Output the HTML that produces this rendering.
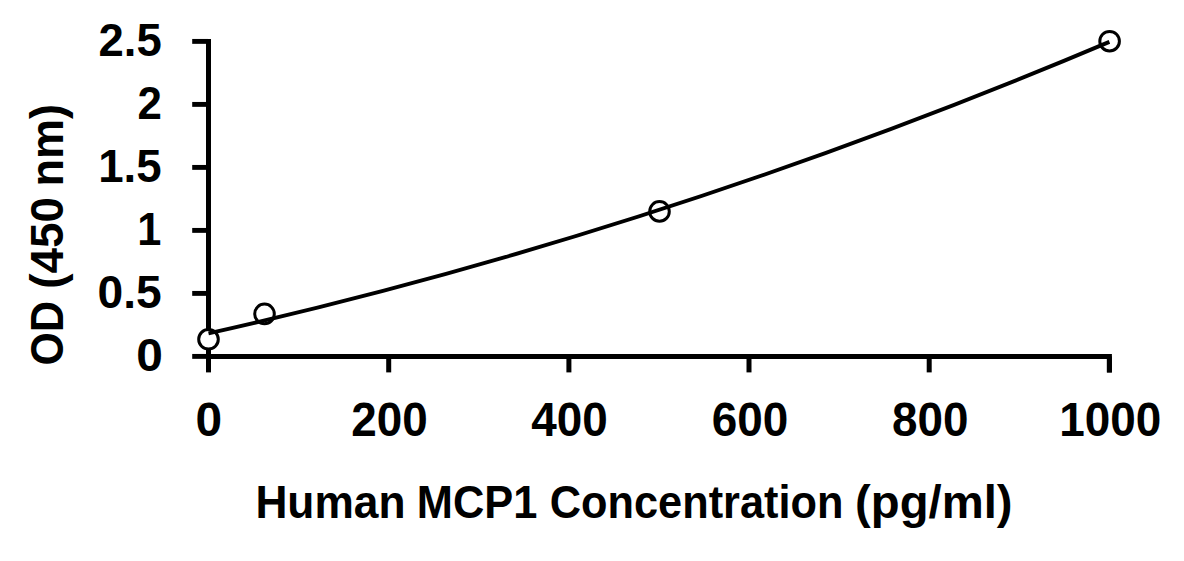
<!DOCTYPE html>
<html><head><meta charset="utf-8"><style>
html,body{margin:0;padding:0;background:#fff;width:1184px;height:561px;overflow:hidden}
svg{display:block}
text{font-family:"Liberation Sans",sans-serif;font-weight:bold;font-size:47px;fill:#000}
</style></head><body>
<svg width="1184" height="561" viewBox="0 0 1184 561">
<rect width="1184" height="561" fill="#fff"/>
<path d="M208.5 39.0 V356.4 H1109.4 V372.4" fill="none" stroke="#000" stroke-width="5"/>
<line x1="192.2" y1="41.4" x2="208.5" y2="41.4" stroke="#000" stroke-width="4.9"/>
<line x1="192.2" y1="104.4" x2="208.5" y2="104.4" stroke="#000" stroke-width="4.9"/>
<line x1="192.2" y1="167.4" x2="208.5" y2="167.4" stroke="#000" stroke-width="4.9"/>
<line x1="192.2" y1="230.4" x2="208.5" y2="230.4" stroke="#000" stroke-width="4.9"/>
<line x1="192.2" y1="293.4" x2="208.5" y2="293.4" stroke="#000" stroke-width="4.9"/>
<line x1="192.2" y1="356.4" x2="208.5" y2="356.4" stroke="#000" stroke-width="4.9"/>
<line x1="208.5" y1="356.4" x2="208.5" y2="372.4" stroke="#000" stroke-width="5"/>
<line x1="388.7" y1="356.4" x2="388.7" y2="372.4" stroke="#000" stroke-width="5"/>
<line x1="568.9" y1="356.4" x2="568.9" y2="372.4" stroke="#000" stroke-width="5"/>
<line x1="749.0" y1="356.4" x2="749.0" y2="372.4" stroke="#000" stroke-width="5"/>
<line x1="929.2" y1="356.4" x2="929.2" y2="372.4" stroke="#000" stroke-width="5"/>
<line x1="1109.4" y1="356.4" x2="1109.4" y2="372.4" stroke="#000" stroke-width="5"/>
<circle cx="208.5" cy="339.3" r="9.8" fill="#fff" stroke="#000" stroke-width="3.0"/>
<circle cx="264.5" cy="313.9" r="9.8" fill="#fff" stroke="#000" stroke-width="3.0"/>
<circle cx="659.5" cy="211.4" r="9.8" fill="#fff" stroke="#000" stroke-width="3.0"/>
<circle cx="1109.6" cy="41.2" r="9.8" fill="#fff" stroke="#000" stroke-width="3.0"/>
<path d="M208.5 333.41 Q659 232.34 1109.4 41.9" fill="none" stroke="#000" stroke-width="3.9"/>
<text transform="translate(98.45 55.90) scale(0.9679 1.0000)">2.5</text>
<text transform="translate(137.41 118.90) scale(0.9339 1.0000)">2</text>
<text transform="translate(98.18 181.90) scale(0.9721 1.0000)">1.5</text>
<text transform="translate(137.13 244.90) scale(0.9220 1.0000)">1</text>
<text transform="translate(97.53 307.90) scale(0.9823 1.0000)">0.5</text>
<text transform="translate(136.17 370.90) scale(1.0179 1.0000)">0</text>
<text transform="translate(195.47 436.10) scale(1.0179 1.0120)">0</text>
<text transform="translate(351.34 436.10) scale(0.9760 1.0120)">200</text>
<text transform="translate(531.32 436.10) scale(0.9763 1.0120)">400</text>
<text transform="translate(711.74 436.10) scale(0.9773 1.0120)">600</text>
<text transform="translate(891.94 436.10) scale(0.9747 1.0120)">800</text>
<text transform="translate(1059.27 436.10) scale(0.9769 1.0120)">1000</text>
<text transform="translate(255.38 517.80) scale(0.9426 0.9783)">Human</text>
<text transform="translate(416.84 517.80) scale(0.9239 0.9783)">MCP1</text>
<text transform="translate(549.75 517.80) scale(0.9222 0.9783)">Concentration</text>
<text transform="translate(855.09 517.80) scale(1.0059 0.9783)">(pg/ml)</text>
<text transform="translate(63.10 186.47) rotate(-90) scale(0.9579 0.9659)">nm)</text>
<text transform="translate(63.10 288.74) rotate(-90) scale(0.9744 0.9659)">(450</text>
<text transform="translate(63.10 365.43) rotate(-90) scale(0.9114 0.9659)">OD</text>
</svg>
</body></html>
